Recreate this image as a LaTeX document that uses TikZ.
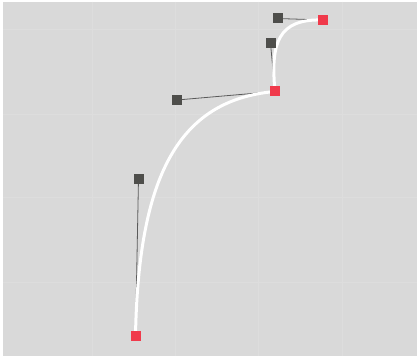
\documentclass[tikz,border=0pt]{standalone}
\definecolor{bg}{HTML}{D9D9D9}
\definecolor{gridc}{HTML}{DDDDDD}
\definecolor{ptred}{HTML}{F03A4B}
\definecolor{ctrl}{HTML}{4E4E4B}
\definecolor{hline}{HTML}{5A5A5A}
\tikzset{
  anchorpt/.style={fill=ptred, draw=none, minimum size=10pt, inner sep=0pt, rectangle},
  ctrlpt/.style={fill=ctrl, draw=none, minimum size=10pt, inner sep=0pt, rectangle},
  handle/.style={draw=hline, line width=0.8pt},
  curve/.style={draw=white, line width=3pt},
}
\begin{document}
\begin{tikzpicture}[x=1pt,y=-1pt]
\useasboundingbox (0,0) rectangle (417,358);
\fill[white] (0,0) rectangle (417,358);
\fill[bg] (3,2) rectangle (417,356);
\foreach \gx in {92,175,258,342} \draw[gridc, line width=1pt] (\gx,2) -- (\gx,356);
\foreach \gy in {30,115,197,282} \draw[gridc, line width=1pt] (3,\gy) -- (417,\gy);
\coordinate (P0) at (135.5,335.5);
\coordinate (C1) at (138.5,178.5);
\coordinate (C2) at (177,100);
\coordinate (P1) at (275,91.5);
\coordinate (C3) at (270.5,43.5);
\coordinate (C4) at (277.5,18.5);
\coordinate (P2) at (323,20);
\draw[handle] (P0) -- (C1);
\draw[handle] (C2) -- (P1);
\draw[handle] (P1) -- (C3);
\draw[handle] (C4) -- (P2);
\draw[curve] (P0) .. controls (C1) and (C2) .. (P1) .. controls (C3) and (C4) .. (P2);
\node[anchorpt] (n0) at (P0) {};
\node[anchorpt] (n1) at (P1) {};
\node[anchorpt] (n2) at (P2) {};
\node[ctrlpt] (k1) at (C1) {};
\node[ctrlpt] (k2) at (C2) {};
\node[ctrlpt] (k3) at (C3) {};
\node[ctrlpt] (k4) at (C4) {};
\end{tikzpicture}
\end{document}
